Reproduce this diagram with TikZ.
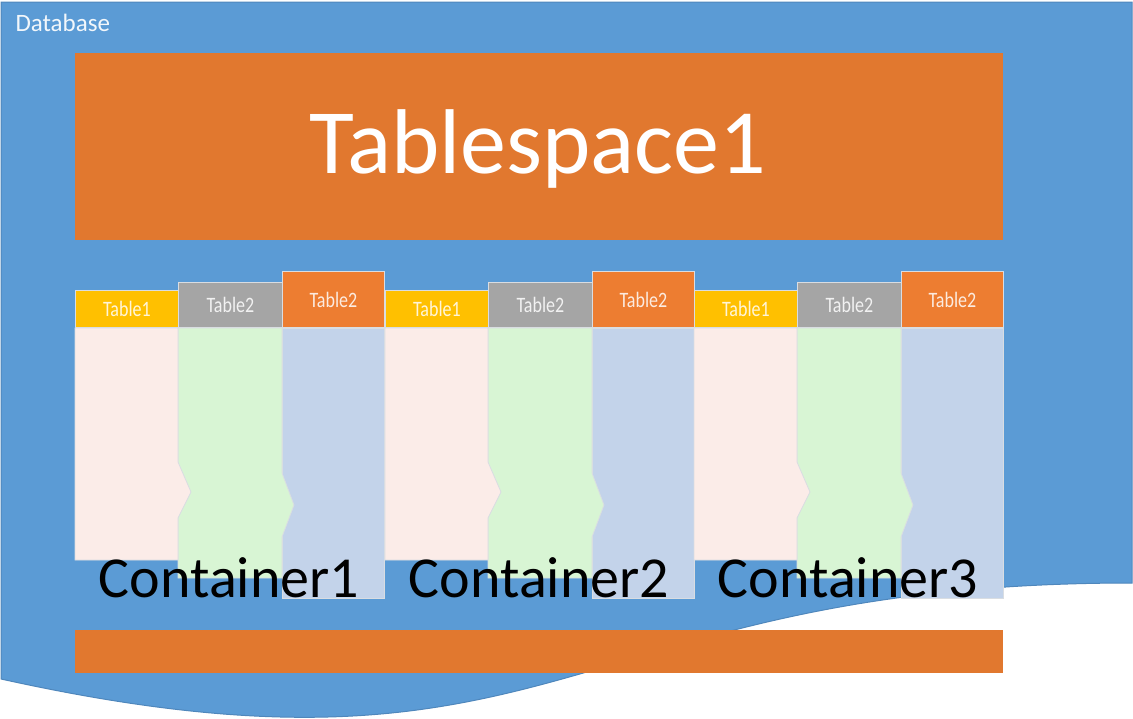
\documentclass[tikz,border=0pt]{standalone}
\usepackage{fontspec}
\usepackage{graphicx}
\setmainfont{Carlito}
\definecolor{dbblue}{HTML}{5B9BD5}
\definecolor{dbedge}{HTML}{4F87BC}
\definecolor{tsorange}{HTML}{E1782F}
\definecolor{hyellow}{HTML}{FFC000}
\definecolor{hgray}{HTML}{A5A5A5}
\definecolor{horange}{HTML}{ED7D31}
\definecolor{bpink}{HTML}{FBECE8}
\definecolor{bgreen}{HTML}{D8F5D4}
\definecolor{bblue}{HTML}{C3D3EA}
\definecolor{colline}{HTML}{D9DDE2}
\begin{document}
\begin{tikzpicture}[x=1pt,y=-1pt,
  colbody/.style={draw=colline, line width=0.8pt},
  hdr/.style={draw=colline, line width=0.8pt, inner sep=0pt, anchor=south west,
              text=white, text opacity=0.85, font=\fontsize{22}{22}\selectfont},
  bar/.style={fill=tsorange, inner sep=0pt, anchor=north west},
  contlabel/.style={anchor=base, text=black, font=\fontsize{58}{58}\selectfont}]
\useasboundingbox (0,0) rectangle (1133,718);

% database: document shape with a wavy lower edge
\draw[draw=dbedge, line width=1pt, fill=dbblue]
  (1,2) -- (1132,2) -- (1132,583)
  .. controls (566,583) and (566,804) .. (1,679) -- cycle;
\node[anchor=base west, text=white, text opacity=0.92,
      font=\fontsize{25}{25}\selectfont] (db) at (12,31) {Database};

% tablespace banner and lower bar
\node[bar, minimum width=928, minimum height=187] (ts) at (75,53) {};
\node[anchor=base, text=white, font=\fontsize{92}{92}\selectfont]
  (tslabel) at (538,173) {Tablespace1};
\node[bar, minimum width=928, minimum height=43] (low) at (75,630) {};

% three containers, each holding three table columns
\foreach \g/\dx in {1/0,2/310,3/619}{
  \begin{scope}[xshift=\dx pt]
    \draw[colbody, fill=bblue] (282,328) -- (384,328) -- (384,598) -- (282,598) -- cycle;
    \draw[colbody, fill=bgreen] (178,328) -- (282,328) -- (282,473) -- (294,505)
      -- (282,537) -- (282,578) -- (178,578) -- cycle;
    \draw[colbody, fill=bpink] (75,328) -- (178,328) -- (178,462) -- (191,492)
      -- (178,518) -- (178,560) -- (75,560) -- cycle;
    \node[hdr, fill=hyellow, minimum width=103, minimum height=37]
      (t\g-a) at (75,328) {\scalebox{0.82}[1]{Table1}};
    \node[hdr, fill=hgray, minimum width=104, minimum height=45]
      (t\g-b) at (178,328) {\scalebox{0.82}[1]{Table2}};
    \node[hdr, fill=horange, minimum width=102, minimum height=56]
      (t\g-c) at (282,328) {\scalebox{0.82}[1]{Table2}};
    \node[contlabel] (c\g) at (229,597) {Container\g};
  \end{scope}
}
\end{tikzpicture}
\end{document}
